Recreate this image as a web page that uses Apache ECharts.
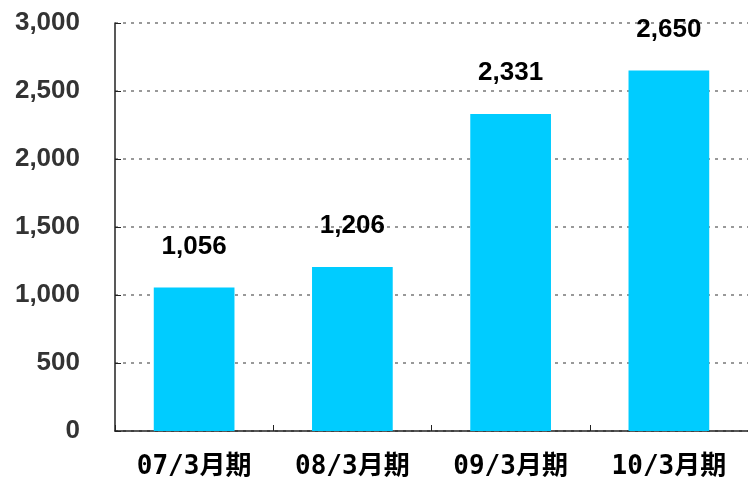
<!DOCTYPE html>
<html><head><meta charset="utf-8">
<script src="https://cdn.jsdelivr.net/npm/echarts@6/dist/echarts.min.js"></script>
<style>html,body{margin:0;padding:0;background:#fff}#c{width:748px;height:482px}</style>
</head><body><div id="c"></div>
<script>
var categories = ['07/3月期', '08/3月期', '09/3月期', '10/3月期'];
var values = [1056, 1206, 2331, 2650];
var yTicks = [0, 500, 1000, 1500, 2000, 2500, 3000];

var chart = echarts.init(document.getElementById('c'));
chart.setOption({
  animation: false,
  grid: { left: 115, right: -3, top: 23, bottom: 51 },
  xAxis: {
    type: 'category', data: categories,
    axisLine: { lineStyle: { color: '#222', width: 1.5 } },
    axisTick: { show: true, inside: true, length: 6, lineStyle: { color: '#222' } },
    axisLabel: { margin: 23, fontSize: 26, fontWeight: 'bold', color: '#000', fontFamily: '"DejaVu Sans Mono", "Noto Sans CJK JP"' }
  },
  yAxis: {
    type: 'value', min: yTicks[0], max: yTicks[yTicks.length - 1], interval: 500,
    axisLine: { show: true, lineStyle: { color: '#222', width: 1.5 } },
    axisTick: { show: true, inside: true, length: 6, lineStyle: { color: '#222' } },
    splitLine: { lineStyle: { color: '#999', type: [3, 5], width: 2 } },
    axisLabel: {
      margin: 35, fontSize: 26, fontWeight: 'bold', color: '#333', fontFamily: 'Arial, "Liberation Sans", sans-serif',
      formatter: function (v) { return v.toLocaleString('en-US'); }
    }
  },
  series: [{
    type: 'bar', data: values, barWidth: '51%',
    itemStyle: { color: '#00CCFF' },
    label: {
      show: true, position: 'top', distance: 28, fontSize: 26, fontWeight: 'bold', color: '#000',
      fontFamily: 'Arial, "Liberation Sans", sans-serif',
      formatter: function (p) { return p.value.toLocaleString('en-US'); }
    }
  }]
});
</script></body></html>
